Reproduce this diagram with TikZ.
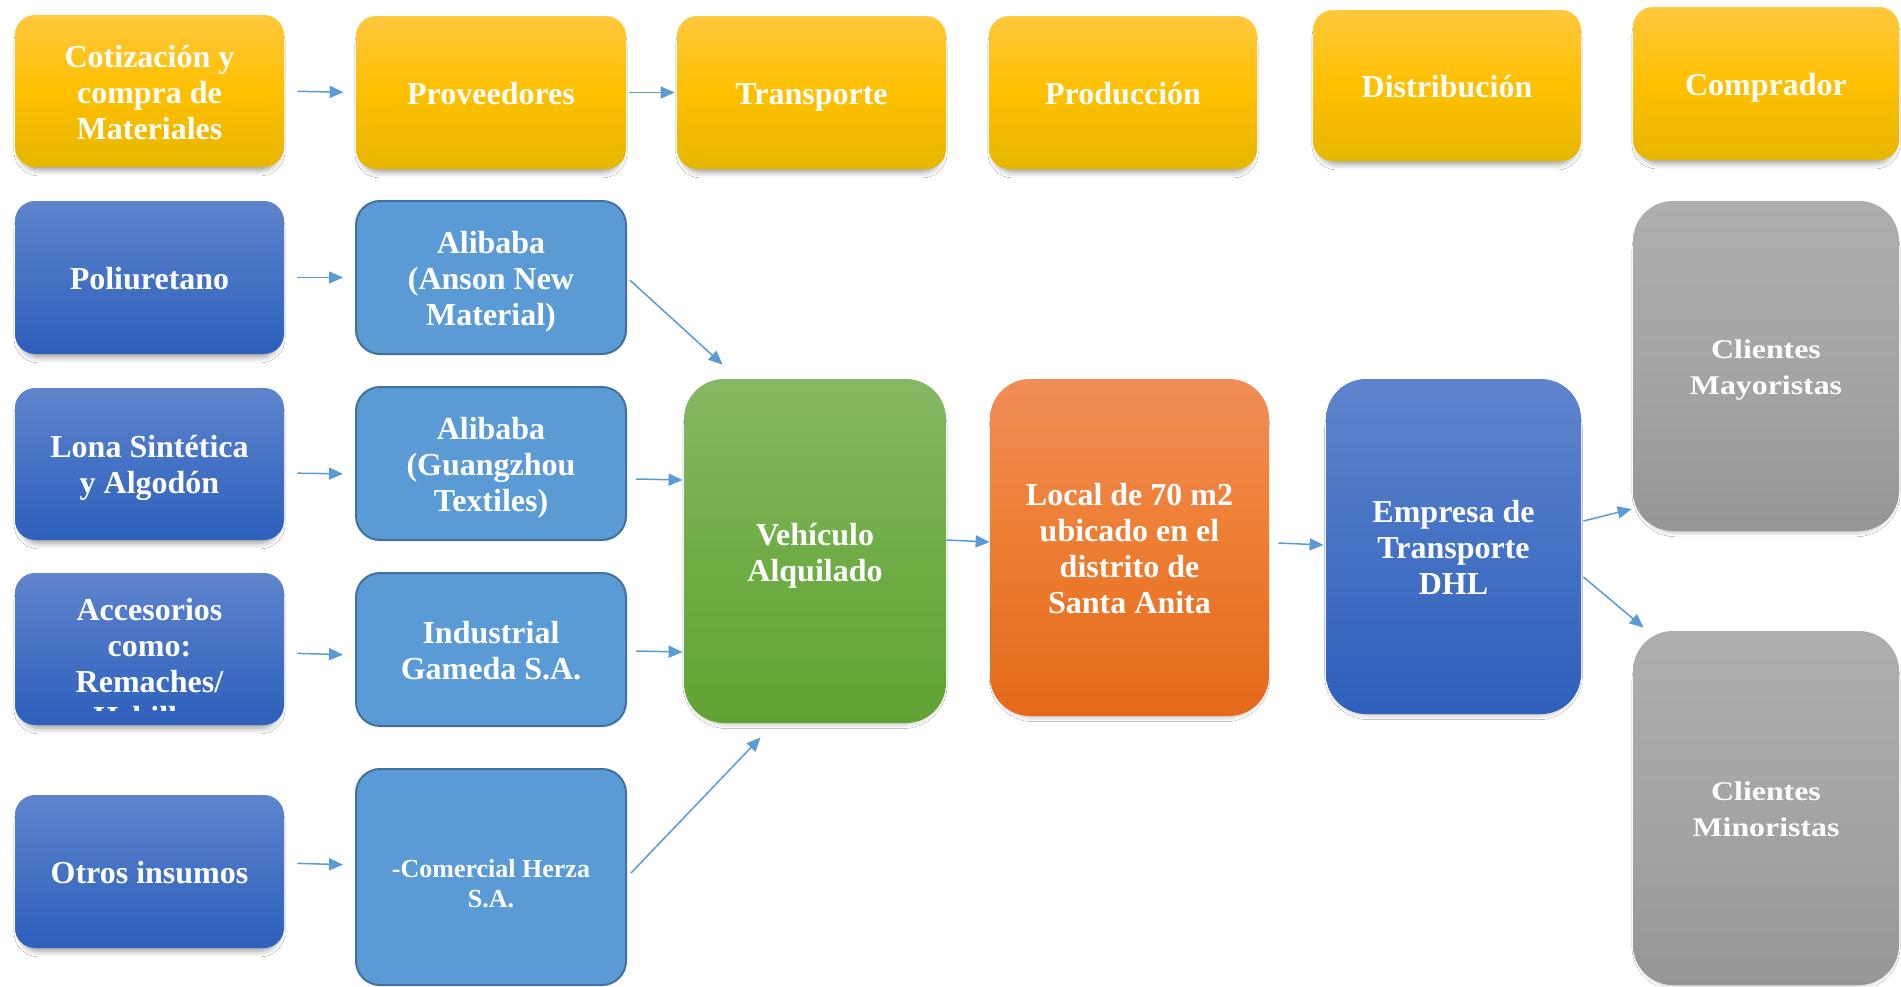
\documentclass[tikz,border=0pt]{standalone}
\usepackage{fontspec}
\setmainfont{Liberation Serif}
\newfontfamily\widefont{Liberation Serif}[FakeStretch=1.18]
\usetikzlibrary{arrows.meta,shadows.blur}
\newcommand\boxtopstrut{\rule{0pt}{0.97em}}
\definecolor{yTop}{HTML}{FFC83D}
\definecolor{yMid}{HTML}{FFC000}
\definecolor{yBot}{HTML}{E6B600}
\definecolor{bTop}{HTML}{5F84CC}
\definecolor{bMid}{HTML}{4472C4}
\definecolor{bBot}{HTML}{2E5FBB}
\definecolor{lb}{HTML}{5B9BD5}
\definecolor{lbBorder}{HTML}{41719C}
\definecolor{gTop}{HTML}{85B964}
\definecolor{gMid}{HTML}{70AD47}
\definecolor{gBot}{HTML}{61A334}
\definecolor{oTop}{HTML}{F18D58}
\definecolor{oMid}{HTML}{ED7D31}
\definecolor{oBot}{HTML}{E5691A}
\definecolor{grTop}{HTML}{AEAEAE}
\definecolor{grMid}{HTML}{A5A5A5}
\definecolor{grBot}{HTML}{969696}
\definecolor{arr}{HTML}{5B9BD5}
\tikzset{
  txt/.style={inner sep=0pt, align=center, text=white, font=\fontsize{16}{18}\selectfont\bfseries,
     execute at begin node={\rule{0pt}{0.95em}}, execute at end node={\rule[-0.2em]{0pt}{0.2em}}},
  shad/.style={blur shadow={shadow xshift=0pt, shadow yshift=-3pt, shadow blur radius=3pt, shadow scale=0.965, shadow opacity=40}},
  ybox/.style={txt, shad, rounded corners=10pt, top color=yTop, bottom color=yBot, middle color=yMid},
  bbox/.style={txt, shad, rounded corners=10pt, top color=bTop, bottom color=bBot, middle color=bMid},
  pbox/.style={txt, rounded corners=12pt, fill=lb, draw=lbBorder, line width=1pt},
  gbox/.style={txt, shad, rounded corners=20pt, top color=gTop, bottom color=gBot, middle color=gMid},
  obox/.style={txt, shad, rounded corners=20pt, top color=oTop, bottom color=oBot, middle color=oMid},
  dbox/.style={txt, shad, rounded corners=20pt, top color=bTop, bottom color=bBot, middle color=bMid},
  graybox/.style={txt, shad, rounded corners=20pt, top color=grTop, bottom color=grBot, middle color=grMid,
     font=\widefont\fontsize{13.5}{18}\selectfont\bfseries},
  flow/.style={draw=arr, line width=0.75pt, -{Triangle[length=7pt,width=6pt]}},
  wh/.style 2 args={minimum width=#1pt, minimum height=#2pt}
}
\begin{document}
\begin{tikzpicture}[x=0.5pt,y=-0.5pt]
\path[fill=white, use as bounding box] (0,0) rectangle (1901,986);
% top row
\node[ybox, wh={134.5}{76}] (cot) at (149.5,91) {\boxtopstrut Cotización y\\compra de\\Materiales};
\node[ybox, wh={135}{76.5}] (prov) at (491,92.5) {Proveedores};
\node[ybox, wh={134.5}{76.5}] (transp) at (811.5,92.5) {Transporte};
\node[ybox, wh={134}{76.5}] (prod) at (1123,92.5) {Producción};
\node[ybox, wh={134}{75.5}] (distr) at (1447,85.5) {Distribución};
\node[ybox, wh={133}{76.5}] (compr) at (1766,83.5) {Comprador};
% materials
\node[bbox, wh={134.5}{76.5}] (poli) at (149.5,277.5) {Poliuretano};
\node[bbox, wh={134.5}{76}] (lona) at (149.5,464) {\boxtopstrut Lona Sintética\\y Algodón};
\node[bbox, wh={134.5}{76}] (acc) at (149.5,649) {};
\begin{scope}
\clip (15,573) rectangle (284,710);
\node[txt] (acctext) at (149.5,667) {Accesorios\\como:\\Remaches/\\Hebillas};
\end{scope}
\node[bbox, wh={134.5}{76.5}] (otros) at (149.5,871.5) {Otros insumos};
% providers
\node[pbox, wh={135}{76.5}] (anson) at (491,277.5) {\boxtopstrut Alibaba\\(Anson New\\Material)};
\node[pbox, wh={135}{76.5}] (guang) at (491,463.5) {\boxtopstrut Alibaba\\(Guangzhou\\Textiles)};
\node[pbox, wh={135}{76.5}] (ind) at (491,649.5) {\boxtopstrut Industrial\\Gameda S.A.};
\node[pbox, wh={135}{108}] (herza) at (491,877) {};
\node[txt, font=\fontsize{13}{15}\selectfont\bfseries] (herzatext) at (491,886.5) {-Comercial Herza\\S.A.};
% center
\node[gbox, wh={131}{172}] (veh) at (815,551) {\boxtopstrut Vehículo\\Alquilado};
\node[obox, wh={139.5}{168.5}] (local) at (1129.5,547.5) {\boxtopstrut Local de 70 m2\\ubicado en el\\distrito de\\Santa Anita};
\node[dbox, wh={127.5}{167.5}] (dhl) at (1453.5,546.5) {\boxtopstrut Empresa de\\Transporte\\DHL};
% clients
\node[graybox, wh={133}{165}] (mayor) at (1766,366) {\boxtopstrut Clientes\\Mayoristas};
\node[graybox, wh={133}{177}] (minor) at (1766,808) {\boxtopstrut Clientes\\Minoristas};
% arrows
\draw[flow, shorten <=6.5pt, shorten >=6pt] (cot.east) -- (prov.west);
\draw[flow, shorten <=1.5pt, shorten >=1pt] (prov.east) -- (transp.west);
\draw[flow, shorten <=6.5pt, shorten >=6pt] (poli.east) -- (anson.west);
\draw[flow, shorten <=6.5pt, shorten >=6pt] ([shift={(0,9)}]lona.east) -- ([shift={(0,10.5)}]guang.west);
\draw[flow, shorten <=6.5pt, shorten >=6pt] ([shift={(0,4)}]acc.east) -- ([shift={(0,5.5)}]ind.west);
\draw[flow, shorten <=6.5pt, shorten >=6pt] ([shift={(0,-8.5)}]otros.east) -- ([shift={(0,-12)}]herza.west);
\draw[flow, shorten <=2pt] (anson.east) -- ([shift={(39,-14)}]veh.north west);
\draw[flow] ([shift={(9,15.5)}]guang.east) -- ([shift={(-1,-71)}]veh.west);
\draw[flow] ([shift={(9,1.5)}]ind.east) -- ([shift={(-1,101)}]veh.west);
\draw[flow] ([shift={(4,-4)}]herza.east) -- ([shift={(77,14)}]veh.south west);
\draw[flow] ([shift={(0,-11)}]veh.east) -- ([shift={(0,-5.5)}]local.west);
\draw[flow] ([shift={(9,-4.5)}]local.east) -- ([shift={(-2,-1.5)}]dhl.west);
\draw[flow] ([shift={(2,-25.5)}]dhl.east) -- ([shift={(-1,143)}]mayor.west);
\draw[flow] ([shift={(2,30.5)}]dhl.east) -- ([shift={(11,-3)}]minor.north west);
\end{tikzpicture}
\end{document}
